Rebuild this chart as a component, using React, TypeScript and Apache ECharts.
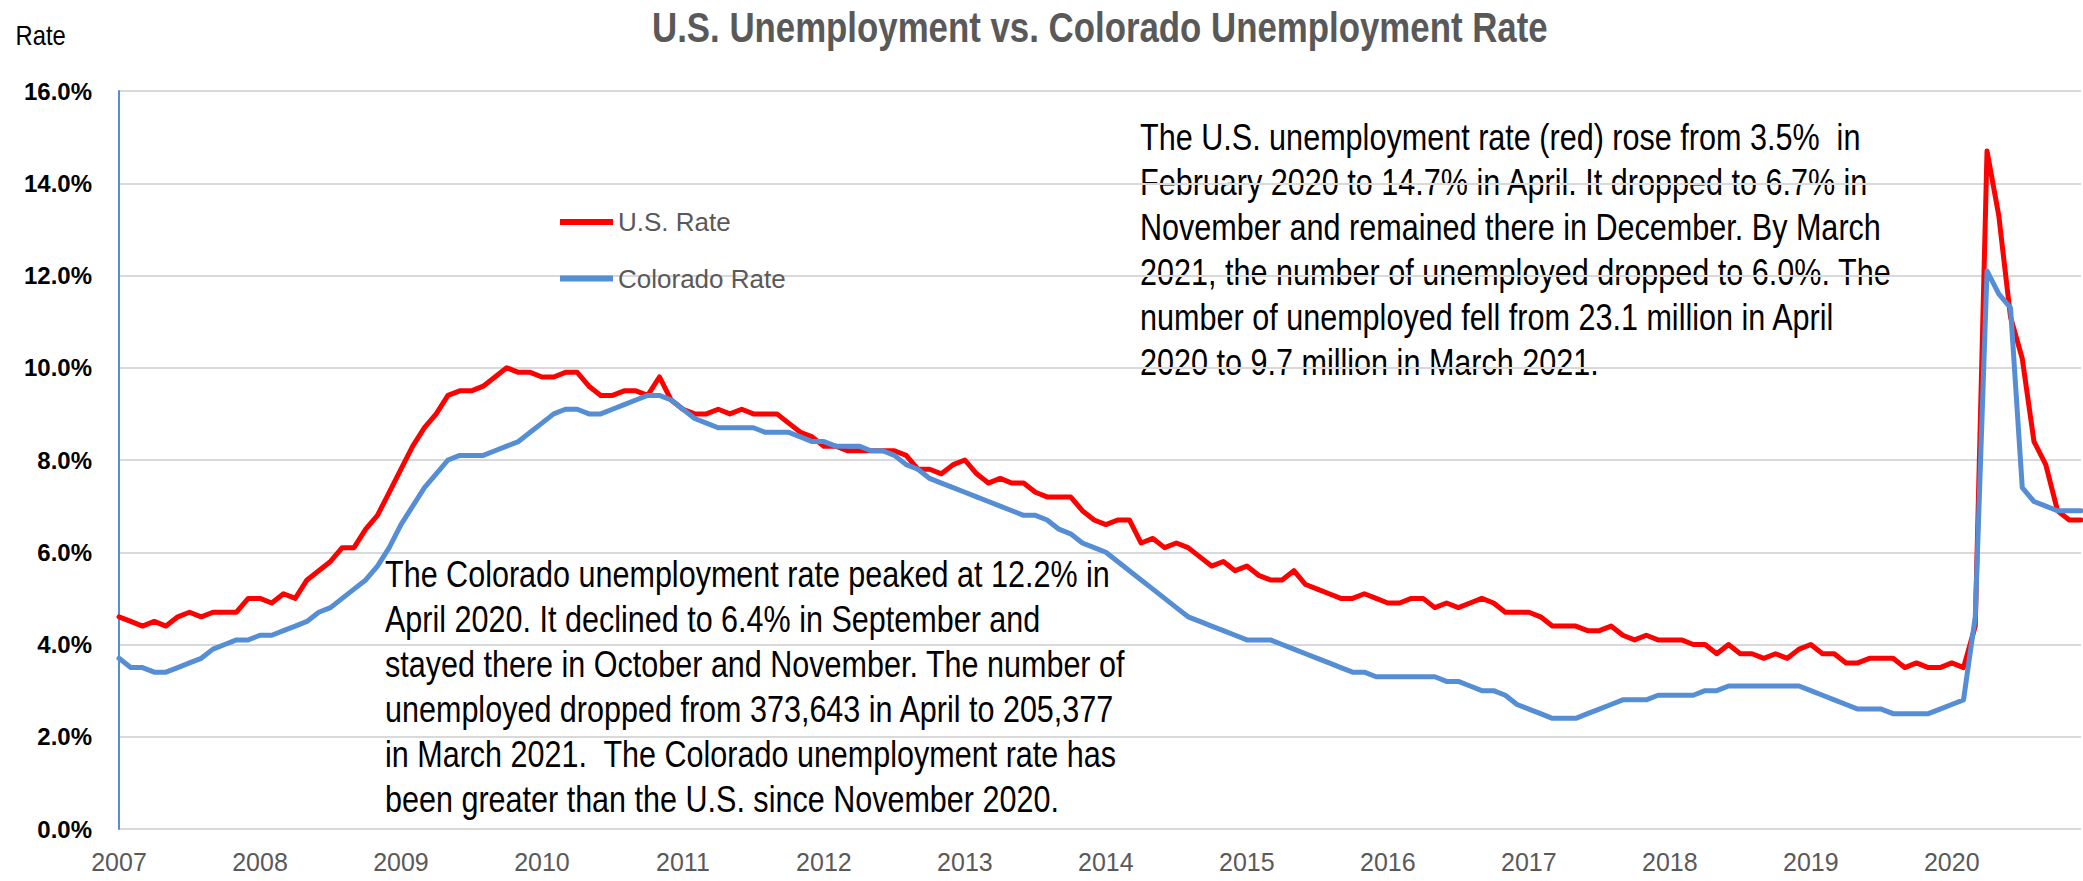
import React, { useEffect, useRef } from "react";
import * as echarts from "echarts";

const years = [2007, 2008, 2009, 2010, 2011, 2012, 2013, 2014, 2015, 2016, 2017, 2018, 2019, 2020];
const months = ["01", "02", "03", "04", "05", "06", "07", "08", "09", "10", "11", "12"];
const categories = years.flatMap((y) => months.map((m) => `${y}-${m}`));

// U.S. unemployment rate, monthly, Jan 2007 – Dec 2020
const usRate = [
  4.6, 4.5, 4.4, 4.5, 4.4, 4.6, 4.7, 4.6, 4.7, 4.7, 4.7, 5.0,
  5.0, 4.9, 5.1, 5.0, 5.4, 5.6, 5.8, 6.1, 6.1, 6.5, 6.8, 7.3,
  7.8, 8.3, 8.7, 9.0, 9.4, 9.5, 9.5, 9.6, 9.8, 10.0, 9.9, 9.9,
  9.8, 9.8, 9.9, 9.9, 9.6, 9.4, 9.4, 9.5, 9.5, 9.4, 9.8, 9.3,
  9.1, 9.0, 9.0, 9.1, 9.0, 9.1, 9.0, 9.0, 9.0, 8.8, 8.6, 8.5,
  8.3, 8.3, 8.2, 8.2, 8.2, 8.2, 8.2, 8.1, 7.8, 7.8, 7.7, 7.9,
  8.0, 7.7, 7.5, 7.6, 7.5, 7.5, 7.3, 7.2, 7.2, 7.2, 6.9, 6.7,
  6.6, 6.7, 6.7, 6.2, 6.3, 6.1, 6.2, 6.1, 5.9, 5.7, 5.8, 5.6,
  5.7, 5.5, 5.4, 5.4, 5.6, 5.3, 5.2, 5.1, 5.0, 5.0, 5.1, 5.0,
  4.9, 4.9, 5.0, 5.0, 4.8, 4.9, 4.8, 4.9, 5.0, 4.9, 4.7, 4.7,
  4.7, 4.6, 4.4, 4.4, 4.4, 4.3, 4.3, 4.4, 4.2, 4.1, 4.2, 4.1,
  4.1, 4.1, 4.0, 4.0, 3.8, 4.0, 3.8, 3.8, 3.7, 3.8, 3.7, 3.9,
  4.0, 3.8, 3.8, 3.6, 3.6, 3.7, 3.7, 3.7, 3.5, 3.6, 3.5, 3.5,
  3.6, 3.5, 4.4, 14.7, 13.3, 11.1, 10.2, 8.4, 7.9, 6.9, 6.7, 6.7,
];

// Colorado unemployment rate, monthly, Jan 2007 – Dec 2020
const coRate = [
  3.7, 3.5, 3.5, 3.4, 3.4, 3.5, 3.6, 3.7, 3.9, 4.0, 4.1, 4.1,
  4.2, 4.2, 4.3, 4.4, 4.5, 4.7, 4.8, 5.0, 5.2, 5.4, 5.7, 6.1,
  6.6, 7.0, 7.4, 7.7, 8.0, 8.1, 8.1, 8.1, 8.2, 8.3, 8.4, 8.6,
  8.8, 9.0, 9.1, 9.1, 9.0, 9.0, 9.1, 9.2, 9.3, 9.4, 9.4, 9.3,
  9.1, 8.9, 8.8, 8.7, 8.7, 8.7, 8.7, 8.6, 8.6, 8.6, 8.5, 8.4,
  8.4, 8.3, 8.3, 8.3, 8.2, 8.2, 8.1, 7.9, 7.8, 7.6, 7.5, 7.4,
  7.3, 7.2, 7.1, 7.0, 6.9, 6.8, 6.8, 6.7, 6.5, 6.4, 6.2, 6.1,
  6.0, 5.8, 5.6, 5.4, 5.2, 5.0, 4.8, 4.6, 4.5, 4.4, 4.3, 4.2,
  4.1, 4.1, 4.1, 4.0, 3.9, 3.8, 3.7, 3.6, 3.5, 3.4, 3.4, 3.3,
  3.3, 3.3, 3.3, 3.3, 3.3, 3.2, 3.2, 3.1, 3.0, 3.0, 2.9, 2.7,
  2.6, 2.5, 2.4, 2.4, 2.4, 2.5, 2.6, 2.7, 2.8, 2.8, 2.8, 2.9,
  2.9, 2.9, 2.9, 3.0, 3.0, 3.1, 3.1, 3.1, 3.1, 3.1, 3.1, 3.1,
  3.0, 2.9, 2.8, 2.7, 2.6, 2.6, 2.6, 2.5, 2.5, 2.5, 2.5, 2.6,
  2.7, 2.8, 4.6, 12.1, 11.6, 11.3, 7.4, 7.1, 7.0, 6.9, 6.9, 6.9,
];

const seriesNames = ["U.S. Rate", "Colorado Rate"];
const titleText = "U.S. Unemployment vs. Colorado Unemployment Rate";
const yAxisName = "Rate";

const usNote = [
  "The U.S. unemployment rate (red) rose from 3.5%  in",
  "February 2020 to 14.7% in April. It dropped to 6.7% in",
  "November and remained there in December. By March",
  "2021, the number of unemployed dropped to 6.0%. The",
  "number of unemployed fell from 23.1 million in April",
  "2020 to 9.7 million in March 2021.",
];

const coNote = [
  "The Colorado unemployment rate peaked at 12.2% in",
  "April 2020. It declined to 6.4% in September and",
  "stayed there in October and November. The number of",
  "unemployed dropped from 373,643 in April to 205,377",
  "in March 2021.  The Colorado unemployment rate has",
  "been greater than the U.S. since November 2020.",
];

const FONT = "'Liberation Sans Narrow', 'Arial Narrow', 'Liberation Sans', Arial, sans-serif";
const RED = "#ff0000";
const BLUE = "#558ed5";

export default function App() {
  const ref = useRef<HTMLDivElement>(null);

  useEffect(() => {
    if (!ref.current) return;
    const chart = echarts.init(ref.current, undefined, { renderer: "svg" });
    chart.setOption({
      animation: false,
      backgroundColor: "#ffffff",
      legend: {
        orient: "vertical",
        left: 560,
        top: 206,
        padding: 0,
        icon: "rect",
        itemWidth: 53,
        itemHeight: 6,
        itemGap: 24.6,
        data: seriesNames,
        textStyle: {
          fontFamily: FONT,
          fontSize: 26,
          color: "#595959",
          lineHeight: 32,
        },
      },
      grid: { left: 119, right: 2, top: 91, bottom: 52 },
      xAxis: {
        type: "category",
        boundaryGap: false,
        data: categories,
        axisLine: { show: false },
        axisTick: { show: false },
        axisLabel: {
          interval: (i: number) => i % 12 === 0,
          formatter: (v: string) => v.slice(0, 4),
          fontFamily: FONT,
          fontSize: 25,
          color: "#595959",
          margin: 20,
        },
        splitLine: { show: false },
      },
      yAxis: {
        type: "value",
        min: 0,
        max: 16,
        interval: 2,
        axisLine: { show: true, lineStyle: { color: BLUE, width: 2 } },
        axisTick: { show: false },
        axisLabel: {
          formatter: (v: number) => v.toFixed(1) + "%",
          fontFamily: FONT,
          fontSize: 24,
          fontWeight: "bold",
          color: "#000000",
          margin: 27,
        },
        splitLine: { show: true, lineStyle: { color: "#d9d9d9", width: 2 } },
      },
      series: [
        {
          name: seriesNames[0],
          type: "line",
          data: usRate,
          showSymbol: false,
          symbol: "none",
          color: RED,
          lineStyle: { color: RED, width: 5, join: "round", cap: "round" },
        },
        {
          name: seriesNames[1],
          type: "line",
          data: coRate,
          showSymbol: false,
          symbol: "none",
          color: BLUE,
          lineStyle: { color: BLUE, width: 5, join: "round", cap: "round" },
        },
      ],
      graphic: [
        {
          type: "text",
          x: 652,
          y: 27.6,
          scaleX: 0.81,
          style: {
            text: titleText,
            fontFamily: FONT,
            fontSize: 43,
            fontWeight: "bold",
            fill: "#595959",
            verticalAlign: "middle",
          },
        },
        {
          type: "text",
          x: 15.6,
          y: 35,
          scaleX: 0.85,
          style: {
            text: yAxisName,
            fontFamily: FONT,
            fontSize: 28,
            fill: "#000000",
            verticalAlign: "middle",
          },
        },
        {
          type: "text",
          x: 1140,
          y: 115,
          scaleX: 0.838,
          style: {
            text: usNote.join("\n"),
            fontFamily: FONT,
            fontSize: 36.5,
            lineHeight: 45,
            fill: "#000000",
            verticalAlign: "top",
          },
        },
        {
          type: "text",
          x: 385,
          y: 552,
          scaleX: 0.837,
          style: {
            text: coNote.join("\n"),
            fontFamily: FONT,
            fontSize: 36.5,
            lineHeight: 45,
            fill: "#000000",
            verticalAlign: "top",
          },
        },
      ],
    });
    return () => chart.dispose();
  }, []);

  return (
    <div
      ref={ref}
      style={{ position: "fixed", left: 0, top: 0, width: 2083, height: 881 }}
    />
  );
}
